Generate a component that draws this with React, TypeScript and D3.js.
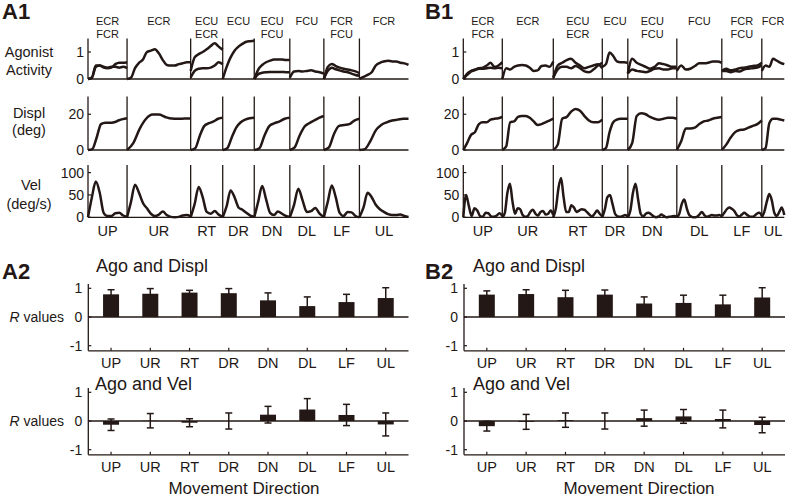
import React from "react";
import * as d3 from "d3";

const FONT = "Arial, 'Liberation Sans', Helvetica, sans-serif";
const INK = "#231815";

// ---------- categories ----------
const directions = ["UP", "UR", "RT", "DR", "DN", "DL", "LF", "UL"];
const musclesA = [["ECR", "FCR"], ["ECR"], ["ECU", "ECR"], ["ECU"], ["ECU", "FCU"], ["FCU"], ["FCR", "FCU"], ["FCR"]];
const musclesB = [["ECR", "FCR"], ["ECR"], ["ECU", "ECR"], ["ECU"], ["ECU", "FCU"], ["FCU"], ["FCR", "FCU"], ["FCR"]];

// trial durations (s) per direction
const durA = [0.78, 1.27, 0.64, 0.63, 0.71, 0.68, 0.71, 0.98];
const durB = [0.78, 1.02, 0.98, 0.51, 0.98, 0.9, 0.8, 0.45];

// ---------- A1 time series ----------
const agoA1 = [
  [0, 0.05, 0.5, 0.5, 0.42, 0.4, 0.42, 0.55, 0.6, 0.6, 0.62],
  [0, 0.05, 0.4, 0.6, 0.72, 1.0, 1.05, 1.1, 0.95, 0.7, 0.52, 0.5, 0.5, 0.55, 0.58, 0.62, 0.62],
  [0.3, 0.8, 0.92, 1.0, 1.1, 1.22, 1.32, 1.2, 1.08],
  [0, 0.45, 0.8, 1.05, 1.2, 1.3, 1.38, 1.4, 1.42],
  [0, 0.35, 0.52, 0.62, 0.68, 0.72, 0.72, 0.72, 0.7, 0.7],
  [0.05, 0.28, 0.3, 0.28, 0.3, 0.32, 0.28, 0.25, 0.2],
  [0, 0.45, 0.56, 0.48, 0.42, 0.38, 0.35, 0.32, 0.28, 0.22],
  [0, 0.08, 0.15, 0.25, 0.5, 0.6, 0.65, 0.68, 0.65, 0.65, 0.6, 0.58, 0.52],
];
const agoA2 = [
  [0, 0.05, 0.45, 0.5, 0.45, 0.42, 0.45, 0.45, 0.42, 0.45, 0.4],
  null,
  [0.05, 0.3, 0.38, 0.4, 0.4, 0.42, 0.5, 0.62, 0.55],
  null,
  [0, 0.18, 0.23, 0.25, 0.26, 0.26, 0.26, 0.26, 0.25, 0.25],
  null,
  [0, 0.3, 0.42, 0.36, 0.32, 0.28, 0.25, 0.2, 0.15, 0.12],
  null,
];
const dispA = [
  [0, 0.5, 7, 14.5, 15.3, 15.2, 15.5, 16.5, 17.3, 17.8],
  [0, 4, 12, 17.5, 19.8, 19.8, 18.5, 17.6, 17.5, 17.6, 17.7],
  [0, 1, 8, 13.5, 15, 16, 17.5, 18],
  [0, 1, 7, 12.5, 15.5, 17, 17.8, 18],
  [0, 1, 8, 13.5, 15, 16, 17.5, 18],
  [0, 1.5, 8, 13, 15, 16.5, 18, 19],
  [0, 1.5, 9, 13.5, 14, 14.5, 16.5, 17.5],
  [0, 0.5, 5, 11, 14, 15.5, 16.5, 17, 17.5, 17.5],
];
const velA = [
  [0, 45, 80, 55, 10, 3, 3, 9, 10, 4, 1],
  [0, 35, 73, 55, 32, 20, 8, 3, 6, 13, 5, 1, 0, 1, 4, 5, 2],
  [0, 30, 68, 45, 12, 8, 14, 6, 1],
  [0, 25, 60, 45, 22, 17, 10, 4, 1],
  [0, 35, 70, 40, 10, 5, 13, 8, 3, 1],
  [0, 28, 64, 38, 12, 14, 21, 8, 1],
  [0, 35, 71, 45, 10, 3, 12, 11, 3, 0],
  [0, 22, 55, 45, 28, 18, 12, 7, 5, 5, 6, 3, 1],
];

// ---------- B1 time series ----------
const agoB1 = [
  [0, 0.2, 0.3, 0.35, 0.4, 0.42, 0.5, 0.6, 0.45, 0.5, 0.62],
  [0, 0.4, 0.35, 0.45, 0.5, 0.52, 0.5, 0.42, 0.3, 0.32, 0.48, 0.5, 0.45, 0.65],
  [0.05, 0.5, 0.6, 0.7, 0.75, 0.6, 0.5, 0.4, 0.45, 0.5, 0.55, 0.4],
  [0.45, 0.55, 0.98, 0.85, 0.65, 0.62, 0.62, 0.6],
  [0.2, 0.75, 0.6, 0.52, 0.45, 0.38, 0.45, 0.58, 0.55, 0.5, 0.45, 0.45],
  [0.3, 0.5, 0.35, 0.38, 0.48, 0.58, 0.58, 0.6, 0.65, 0.65, 0.6],
  [0.3, 0.38, 0.32, 0.35, 0.4, 0.42, 0.45, 0.48, 0.5, 0.6],
  [0.3, 0.5, 0.45, 0.75, 0.68, 0.6, 0.55],
];
const agoB2 = [
  [0, 0.15, 0.28, 0.33, 0.38, 0.38, 0.4, 0.42, 0.4, 0.42, 0.4],
  null,
  [0.05, 0.35, 0.45, 0.45, 0.4, 0.48, 0.4, 0.28, 0.25, 0.35, 0.5, 0.6],
  null,
  [0.2, 0.35, 0.3, 0.28, 0.25, 0.3, 0.38, 0.4, 0.35, 0.35, 0.4, 0.4],
  null,
  [0.3, 0.3, 0.25, 0.3, 0.28, 0.35, 0.38, 0.4, 0.42, 0.5],
  null,
];
const dispB = [
  [0, 4, 8.5, 10, 14.5, 15.5, 15.5, 17, 17.5, 17.8, 18.5],
  [0, 2, 15.5, 16, 18.5, 19, 19, 18, 16, 14, 14.5, 15.5, 16.5, 17.5],
  [0, 3, 17.5, 18.5, 21.5, 23, 22, 19, 16.5, 15.5, 15.5, 17],
  [0, 1, 10, 15.5, 17, 17.5, 17.5, 17.5],
  [0, 4, 19, 20.5, 20, 18.5, 17.5, 17, 17.5, 18, 18, 17.5],
  [0, 5, 12, 12, 12.5, 14.5, 16, 16.5, 17.5, 18, 18.5],
  [0, 3, 7, 10, 11.2, 11.5, 12.5, 13.5, 14.5, 16.5],
  [0, 1, 15, 17.5, 17.5, 17, 16.5],
];
const velB = [
  [0, 50, 25, 3, 20, 15, 3, 1, 10, 9, 2, 1, 4, 9, 3],
  [0, 10, 55, 75, 35, 8, 20, 18, 5, 1, 3, 12, 17, 8, 4, 12, 14, 6, 8, 15, 5],
  [0, 20, 65, 88, 45, 12, 12, 27, 22, 12, 15, 18, 17, 12, 6, 2, 8, 15, 8, 2],
  [0, 18, 45, 50, 30, 8, 2, 1, 3, 5, 1],
  [0, 15, 55, 75, 40, 8, 2, 8, 10, 7, 2, 0, 2, 6, 3, 0, 1, 2, 3, 2],
  [0, 8, 30, 40, 20, 5, 1, 0, 1, 6, 12, 5, 1, 3, 5, 4, 4, 5, 2],
  [2, 10, 18, 22, 19, 14, 5, 2, 6, 10, 6, 2, 1, 3, 8, 10, 3],
  [0, 12, 35, 52, 38, 10, 3, 12, 22, 5],
];

// ---------- correlation R values (mean, SD) ----------
const rDispA = [0.79, 0.81, 0.85, 0.83, 0.58, 0.38, 0.52, 0.66];
const sdDispA = [0.16, 0.18, 0.08, 0.16, 0.26, 0.32, 0.27, 0.36];
const rVelA = [-0.13, 0.01, -0.06, 0.0, 0.22, 0.4, 0.21, -0.12];
const sdVelA = [0.2, 0.25, 0.14, 0.28, 0.29, 0.38, 0.37, 0.4];
const rDispB = [0.78, 0.8, 0.69, 0.78, 0.47, 0.49, 0.44, 0.68];
const sdDispB = [0.13, 0.15, 0.24, 0.16, 0.23, 0.27, 0.32, 0.34];
const rVelB = [-0.18, -0.03, 0.03, 0.0, 0.1, 0.16, 0.07, -0.14];
const sdVelB = [0.17, 0.26, 0.25, 0.28, 0.28, 0.24, 0.31, 0.27];

type Seg = number[] | null;

function TracePanel(p: {
  x0: number; x1: number; durs: number[]; yBase: number; yTop: number; yMax: number;
  ticks: number[]; traces: Seg[][];
}) {
  const total = d3.sum(p.durs);
  const t = d3.scaleLinear().domain([0, total]).range([p.x0, p.x1]);
  const y = d3.scaleLinear().domain([0, p.yMax]).range([p.yBase, p.yTop]);
  const starts = [0, ...Array.from(d3.cumsum(p.durs))];
  const line = d3.line<[number, number]>().x((d) => t(d[0])).y((d) => y(d[1])).curve(d3.curveMonotoneX);
  const paths: string[] = [];
  p.traces.forEach((series) => {
    series.forEach((seg, k) => {
      if (!seg) return;
      const n = seg.length;
      const pts: [number, number][] = seg.map((v, i) => [starts[k] + (p.durs[k] * i) / (n - 1), v]);
      paths.push(line(pts) || "");
    });
  });
  return (
    <g>
      {paths.map((d, i) => (
        <path key={i} d={d} fill="none" stroke={INK} strokeWidth={2.5} strokeLinejoin="round" />
      ))}
      <line x1={p.x0} x2={p.x0} y1={p.yTop} y2={p.yBase} stroke={INK} strokeWidth={1.3} />
      <line x1={p.x0} x2={p.x1} y1={p.yBase} y2={p.yBase} stroke={INK} strokeWidth={1.3} />
      {starts.slice(1, p.durs.length).map((s, i) => (
        <line key={i} x1={t(s)} x2={t(s)} y1={p.yTop} y2={p.yBase} stroke={INK} strokeWidth={1.3} />
      ))}
      {p.ticks.map((v) => (
        <g key={v}>
          <line x1={p.x0} x2={p.x0 + 3} y1={y(v)} y2={y(v)} stroke={INK} strokeWidth={1.2} />
          <text x={p.x0 - 4} y={y(v) + 5} textAnchor="end" fontSize={14} fill={INK}>{v}</text>
        </g>
      ))}
    </g>
  );
}

function SegLabels(p: { x0: number; x1: number; durs: number[]; rows: string[][]; y: number; size: number; lh: number }) {
  const total = d3.sum(p.durs);
  const t = d3.scaleLinear().domain([0, total]).range([p.x0, p.x1]);
  const starts = [0, ...Array.from(d3.cumsum(p.durs))];
  return (
    <g>
      {p.rows.map((lines, k) => {
        const cx = t(starts[k] + p.durs[k] / 2);
        return lines.map((s, j) => (
          <text key={k + "-" + j} x={cx} y={p.y + j * p.lh} textAnchor="middle" fontSize={p.size} fill={INK}>{s}</text>
        ));
      })}
    </g>
  );
}

function BarPanel(p: {
  x0: number; x1: number; y0: number; means: number[]; sds: number[]; title: string; titleX: number; titleY: number;
}) {
  const x = d3.scalePoint<string>().domain(directions).range([p.x0, p.x1]).padding(0.58);
  const y = d3.scaleLinear().domain([-1, 1]).range([p.y0 + 28.7, p.y0 - 28.7]);
  const yTop = y(1.15);
  const yBot = y(-1.18);
  const bw = 16;
  const cap = 3.5;
  return (
    <g>
      <text x={p.titleX} y={p.titleY} fontSize={18} fill={INK}>{p.title}</text>
      {directions.map((d, i) => {
        const cx = x(d) as number;
        const m = p.means[i];
        const hi = m + p.sds[i];
        const lo = m - p.sds[i];
        return (
          <g key={d}>
            <line x1={cx} x2={cx} y1={y(hi)} y2={y(lo)} stroke={INK} strokeWidth={1.5} />
            <line x1={cx - cap} x2={cx + cap} y1={y(hi)} y2={y(hi)} stroke={INK} strokeWidth={1.5} />
            <line x1={cx - cap} x2={cx + cap} y1={y(lo)} y2={y(lo)} stroke={INK} strokeWidth={1.5} />
            <rect x={cx - bw / 2} width={bw} y={Math.min(y(m), y(0))} height={Math.abs(y(m) - y(0))} fill={INK} />
            <line x1={cx} x2={cx} y1={yBot} y2={yBot - 3} stroke={INK} strokeWidth={1.2} />
            <text x={cx} y={yBot + 17} textAnchor="middle" fontSize={14.5} fill={INK}>{d}</text>
          </g>
        );
      })}
      <line x1={p.x0} x2={p.x1} y1={y(0)} y2={y(0)} stroke={INK} strokeWidth={1.3} />
      <line x1={p.x0} x2={p.x1} y1={yBot} y2={yBot} stroke={INK} strokeWidth={1.3} />
      <line x1={p.x0} x2={p.x0} y1={yTop} y2={yBot} stroke={INK} strokeWidth={1.3} />
      {[1, 0, -1].map((v) => (
        <g key={v}>
          <line x1={p.x0} x2={p.x0 + 3} y1={y(v)} y2={y(v)} stroke={INK} strokeWidth={1.2} />
          <text x={p.x0 - 6} y={y(v) + 5} textAnchor="end" fontSize={14} fill={INK}>{v}</text>
        </g>
      ))}
    </g>
  );
}

export default function App() {
  const AX0 = 88, AX1 = 408.5, BX0 = 463.3, BX1 = 784.3;
  const agoP = { yBase: 79, yTop: 38.5, yMax: 1.5, ticks: [0, 1] };
  const dispP = { yBase: 150, yTop: 96.4, yMax: 30, ticks: [0, 20] };
  const velP = { yBase: 217.3, yTop: 165, yMax: 117, ticks: [0, 50, 100] };
  return (
    <svg width={787} height={497} style={{ position: "absolute", left: 0, top: 0, background: "#fff" }} fontFamily={FONT}>
      <rect width={787} height={497} fill="#fff" />
      {/* panel letters */}
      <text x={2} y={19} fontSize={22} fontWeight="bold" fill={INK}>A1</text>
      <text x={425} y={19} fontSize={22} fontWeight="bold" fill={INK}>B1</text>
      <text x={2} y={279} fontSize={22} fontWeight="bold" fill={INK}>A2</text>
      <text x={425} y={279} fontSize={22} fontWeight="bold" fill={INK}>B2</text>

      {/* y labels A1 */}
      <g fontSize={14.5} fill={INK} textAnchor="middle">
        <text x={29} y={57}>Agonist</text>
        <text x={29} y={75}>Activity</text>
        <text x={29} y={118}>Displ</text>
        <text x={29} y={135}>(deg)</text>
        <text x={31} y={190}>Vel</text>
        <text x={29} y={209}>(deg/s)</text>
      </g>

      <SegLabels x0={AX0} x1={AX1} durs={durA} rows={musclesA} y={25} size={11} lh={13} />
      <SegLabels x0={BX0} x1={BX1} durs={durB} rows={musclesB} y={25} size={11} lh={13} />

      <TracePanel x0={AX0} x1={AX1} durs={durA} {...agoP} traces={[agoA1, agoA2]} />
      <TracePanel x0={AX0} x1={AX1} durs={durA} {...dispP} traces={[dispA]} />
      <TracePanel x0={AX0} x1={AX1} durs={durA} {...velP} traces={[velA]} />
      <TracePanel x0={BX0} x1={BX1} durs={durB} {...agoP} traces={[agoB1, agoB2]} />
      <TracePanel x0={BX0} x1={BX1} durs={durB} {...dispP} traces={[dispB]} />
      <TracePanel x0={BX0} x1={BX1} durs={durB} {...velP} traces={[velB]} />

      <SegLabels x0={AX0} x1={AX1} durs={durA} rows={directions.map((d) => [d])} y={236} size={14.5} lh={0} />
      <SegLabels x0={BX0} x1={BX1} durs={durB} rows={directions.map((d) => [d])} y={236} size={14.5} lh={0} />

      {/* A2 / B2 */}
      <BarPanel x0={88.3} x1={408.5} y0={317} means={rDispA} sds={sdDispA} title="Ago and Displ" titleX={96} titleY={272} />
      <BarPanel x0={88.3} x1={408.5} y0={421} means={rVelA} sds={sdVelA} title="Ago and Vel" titleX={95} titleY={390} />
      <BarPanel x0={464} x1={785} y0={317} means={rDispB} sds={sdDispB} title="Ago and Displ" titleX={473} titleY={272} />
      <BarPanel x0={464} x1={785} y0={421} means={rVelB} sds={sdVelB} title="Ago and Vel" titleX={473} titleY={390} />

      <g fontSize={14} fill={INK} textAnchor="end">
        <text x={64} y={322}><tspan fontStyle="italic">R</tspan> values</text>
        <text x={64} y={426}><tspan fontStyle="italic">R</tspan> values</text>
      </g>
      <text x={244} y={494} textAnchor="middle" fontSize={17} fill={INK}>Movement Direction</text>
      <text x={639} y={494} textAnchor="middle" fontSize={17} fill={INK}>Movement Direction</text>
    </svg>
  );
}
